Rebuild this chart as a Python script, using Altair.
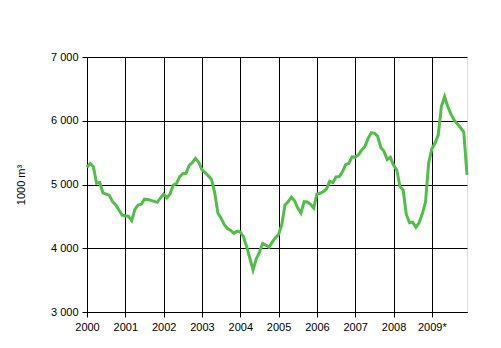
import altair as alt
import pandas as pd

months = list(range(120))
values = [
    5270, 5330, 5280, 5020, 5030, 4870, 4850, 4830, 4730, 4680, 4600, 4520,
    4510, 4500, 4432, 4610, 4678, 4690, 4770, 4765, 4750, 4735, 4720, 4790,
    4850, 4790, 4850, 4990, 5015, 5120, 5170, 5175, 5300, 5345, 5410, 5350,
    5230, 5185, 5135, 5080, 4870, 4550, 4470, 4370, 4310, 4280, 4235, 4268,
    4255, 4180, 4025, 3843, 3660, 3830, 3940, 4075, 4050, 4015, 4095, 4165,
    4215, 4370, 4678, 4730, 4800, 4745, 4630, 4550, 4730, 4725, 4690, 4630,
    4850, 4862, 4888, 4930, 5050, 5030, 5120, 5125, 5200, 5310, 5333, 5435,
    5430, 5465, 5540, 5595, 5720, 5810, 5805, 5760, 5580, 5520, 5390, 5430,
    5300, 5230, 4970, 4915, 4530, 4400, 4410, 4330, 4400, 4540, 4720, 5340,
    5560, 5650, 5780, 6230, 6378, 6220, 6100, 6010, 5950, 5890, 5820, 5150,
]
year_ticks = [0, 12, 24, 36, 48, 60, 72, 84, 96, 108]
year_labels = ["2000", "2001", "2002", "2003", "2004", "2005", "2006", "2007", "2008", "2009*"]
y_ticks = [3000, 4000, 5000, 6000, 7000]

df = pd.DataFrame({"m": months, "v": values})

label_expr = "[" + ",".join(f"'{l}'" for l in year_labels) + "][floor(datum.value / 12)]"

chart = alt.Chart(df).mark_line(color="#4fbf45", strokeWidth=3).encode(
    x=alt.X("m:Q", scale=alt.Scale(domain=[0, 119], nice=False, zero=False),
            axis=alt.Axis(values=year_ticks, labelExpr=label_expr, title=None,
                          grid=True, gridColor="black", gridOpacity=1, gridWidth=1,
                          domainColor="black", tickColor="black", tickSize=5,
                          labelFont="Liberation Sans", labelFontSize=11, labelColor="black",
                          labelPadding=4, labelFlush=False, labelOverlap=False)),
    y=alt.Y("v:Q", scale=alt.Scale(domain=[3000, 7000], nice=False, zero=False),
            axis=alt.Axis(values=y_ticks,
                          labelExpr="replace(format(datum.value, ',d'), ',', ' ')",
                          title="1000 m³", titleFont="Liberation Sans", titleFontSize=11,
                          titleFontWeight="normal", titleColor="black", titlePadding=24,
                          grid=True, gridColor="black", gridOpacity=1, gridWidth=1,
                          domainColor="black", tickColor="black", tickSize=5,
                          labelFont="Liberation Sans", labelFontSize=11, labelColor="black",
                          labelPadding=4)),
).properties(
    width=380, height=255,
    autosize=alt.AutoSizeParams(type="none"),
    padding={"left": 79, "top": 49, "right": 26, "bottom": 28},
).configure_view(stroke="black", strokeWidth=1).configure(background="white")

chart.save("out.html", embed_options={"renderer": "svg", "actions": False})
